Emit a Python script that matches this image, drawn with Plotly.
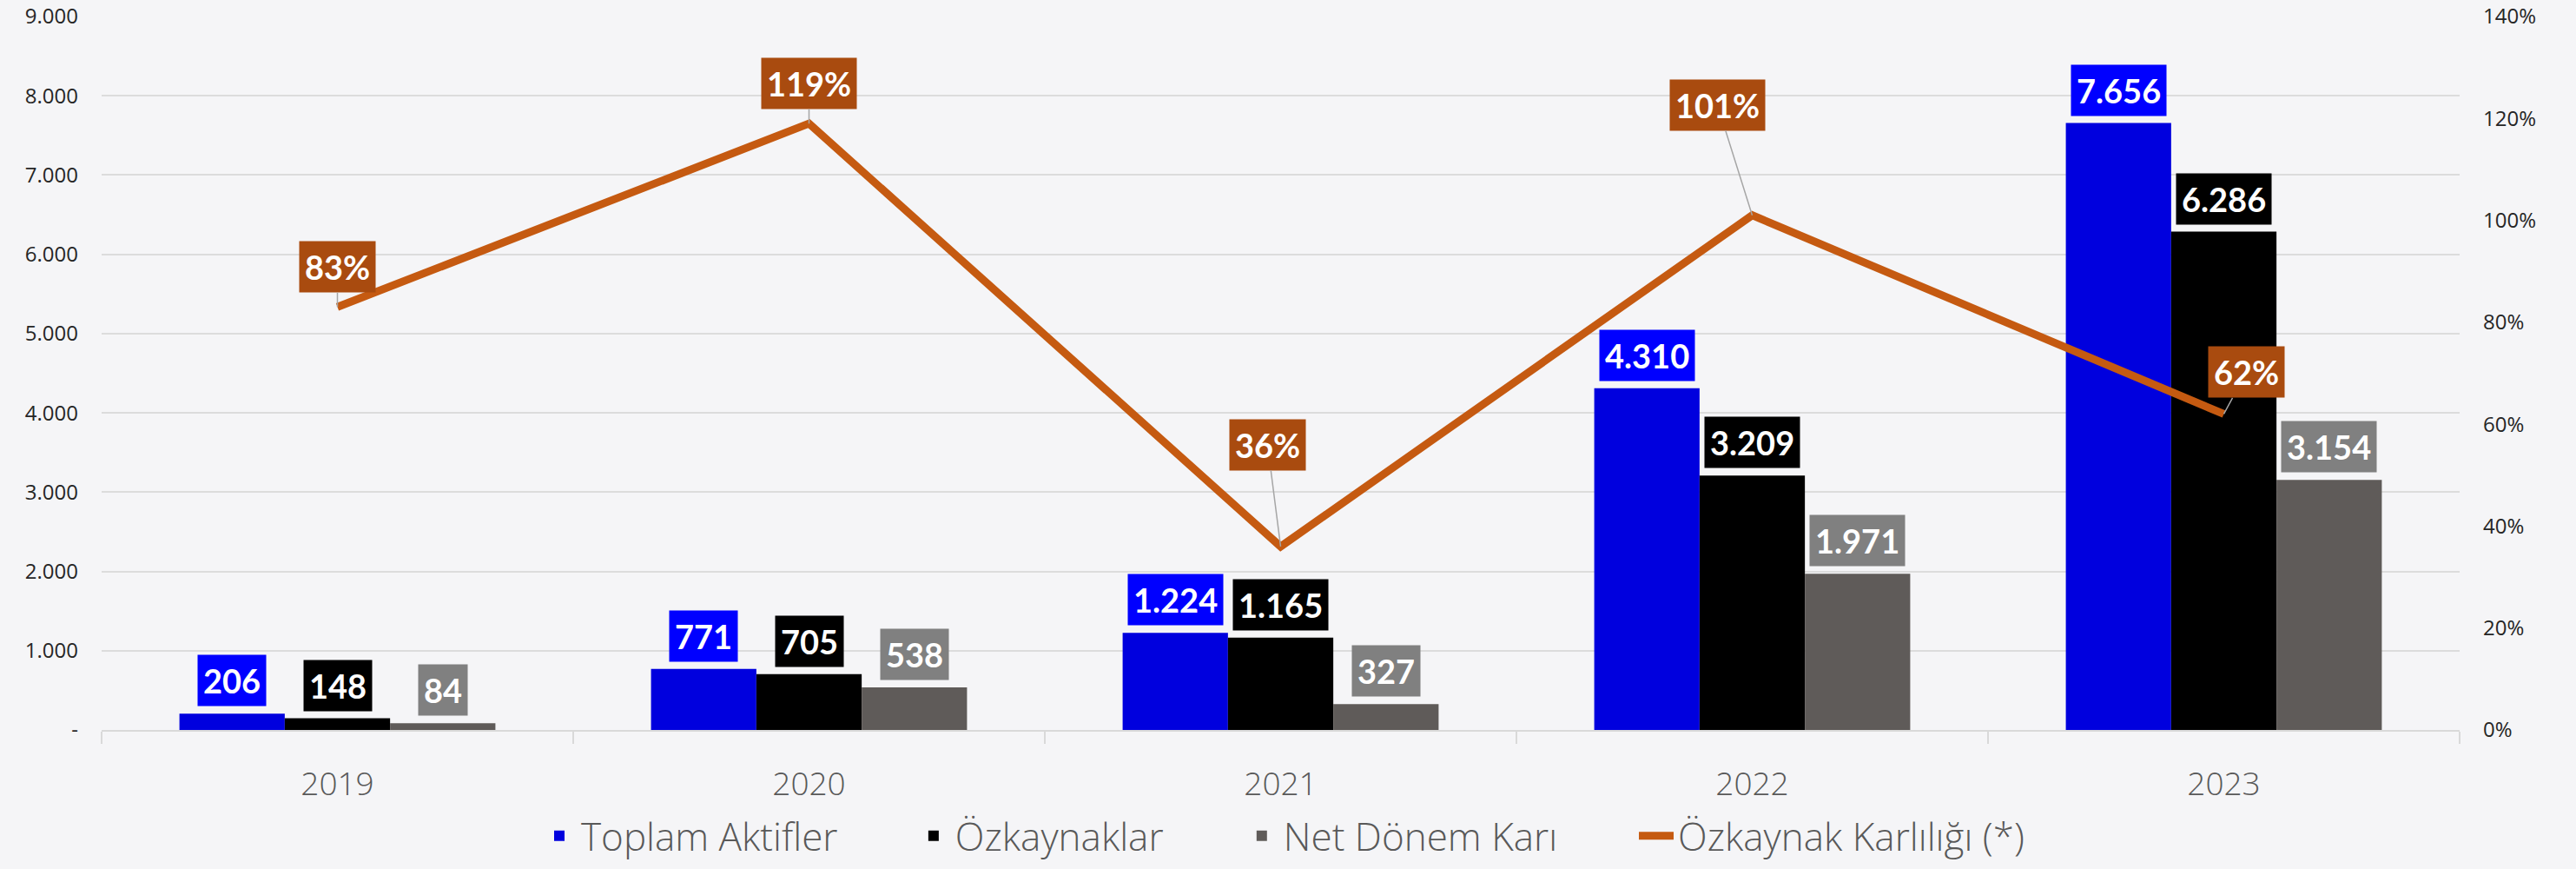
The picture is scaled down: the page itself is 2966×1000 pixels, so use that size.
import plotly.graph_objects as go

years = ["2019", "2020", "2021", "2022", "2023"]
toplam_aktifler = [206, 771, 1224, 4310, 7656]
ozkaynaklar = [148, 705, 1165, 3209, 6286]
net_donem_kari = [84, 538, 327, 1971, 3154]
ozkaynak_karliligi = [0.83, 1.19, 0.36, 1.01, 0.62]

left_tickvals = [0, 1000, 2000, 3000, 4000, 5000, 6000, 7000, 8000, 9000]
left_ticktext = ["-", "1.000", "2.000", "3.000", "4.000", "5.000", "6.000", "7.000", "8.000", "9.000"]
right_tickvals = [0, 0.2, 0.4, 0.6, 0.8, 1.0, 1.2, 1.4]
right_ticktext = ["0%", "20%", "40%", "60%", "80%", "100%", "120%", "140%"]

series = [
    ("Toplam Aktifler", toplam_aktifler, "#0000DE", "#0000FF"),
    ("Özkaynaklar", ozkaynaklar, "#000000", "#000000"),
    ("Net Dönem Karı", net_donem_kari, "#5F5B59", "#808080"),
]

# pixel offsets of the percentage boxes relative to their points
pct_offsets = [(0, -46), (0, -46), (-15, -117), (-40, -127), (26, -48)]
# horizontal legend positions (paper fraction), one legend per entry
legend_x = [0.1849, 0.3436, 0.4828, 0.6501]

BG = "#F5F5F7"
FONT = "Lato"
TICKFONT = "Open Sans"
BARGAP = 0.33

def tr_fmt(v):
    return f"{v:,}".replace(",", ".")

legend_ids = ["legend", "legend2", "legend3", "legend4"]

fig = go.Figure()
for k, (name, vals, col, _) in enumerate(series):
    fig.add_trace(go.Bar(
        x=years, y=vals, name=name, legend=legend_ids[k],
        marker=dict(color=col, line=dict(width=0)),
    ))

fig.add_trace(go.Scatter(
    x=years, y=ozkaynak_karliligi, name="Özkaynak Karlılığı (*)",
    mode="lines", yaxis="y2", legend=legend_ids[3],
    line=dict(color="#C55A11", width=9),
))

annotations = []
bw = (1 - BARGAP) / 3
for j, (name, vals, col, lab_col) in enumerate(series):
    for i, v in enumerate(vals):
        annotations.append(dict(
            x=i + (j - 1) * bw, y=v, xref="x", yref="y",
            text=f"<b>{tr_fmt(v)}</b>", showarrow=False,
            yanchor="bottom", yshift=8,
            bgcolor=lab_col, borderpad=6,
            font=dict(family=FONT, size=38, color="white"),
        ))

for i, v in enumerate(ozkaynak_karliligi):
    ax, ay = pct_offsets[i]
    annotations.append(dict(
        x=i, y=v, xref="x", yref="y2",
        text=f"<b>{round(v*100)}%</b>", showarrow=True,
        arrowhead=0, arrowwidth=1.5, arrowcolor="#A6A6A6",
        ax=ax, ay=ay, standoff=0,
        bgcolor="#A94B0F", borderpad=6,
        font=dict(family=FONT, size=38, color="white"),
    ))

legend_font = dict(family=TICKFONT, size=44, color="#595959", weight=300)
legends = {}
for lid, lx in zip(legend_ids, legend_x):
    legends[lid] = dict(
        orientation="h", x=lx, xanchor="left", y=-0.192, yanchor="bottom",
        font=legend_font, bgcolor="rgba(0,0,0,0)", itemwidth=40,
    )

fig.update_layout(
    width=2966, height=1000,
    margin=dict(l=117, r=134, t=19, b=160, autoexpand=False),
    paper_bgcolor=BG, plot_bgcolor=BG,
    barmode="group", bargap=BARGAP, bargroupgap=0,
    font=dict(family=TICKFONT, color="#404040"),
    showlegend=True,
    xaxis=dict(
        type="category", range=[-0.5, 4.5],
        showgrid=False, showline=True, linecolor="#D9D9D9", linewidth=2,
        ticks="outside", tickson="boundaries", ticklen=14, tickwidth=2, tickcolor="#D9D9D9",
        tickfont=dict(family=TICKFONT, size=37, color="#595959", weight=300),
        ticklabelstandoff=29,
    ),
    yaxis=dict(
        range=[0, 9000], tickvals=left_tickvals, ticktext=left_ticktext,
        showgrid=True, gridcolor="#DCDCDC", gridwidth=2,
        zeroline=False, showline=False, ticks="",
        tickfont=dict(family=TICKFONT, size=24, color="#262626"),
        ticklabelstandoff=26,
    ),
    yaxis2=dict(
        range=[0, 1.4], tickvals=right_tickvals, ticktext=right_ticktext,
        overlaying="y", side="right", showgrid=False, zeroline=False,
        showline=False, ticks="",
        tickfont=dict(family=TICKFONT, size=24, color="#262626"),
        ticklabelstandoff=26,
    ),
    annotations=annotations,
    **legends,
)

fig.write_html("out.html")
